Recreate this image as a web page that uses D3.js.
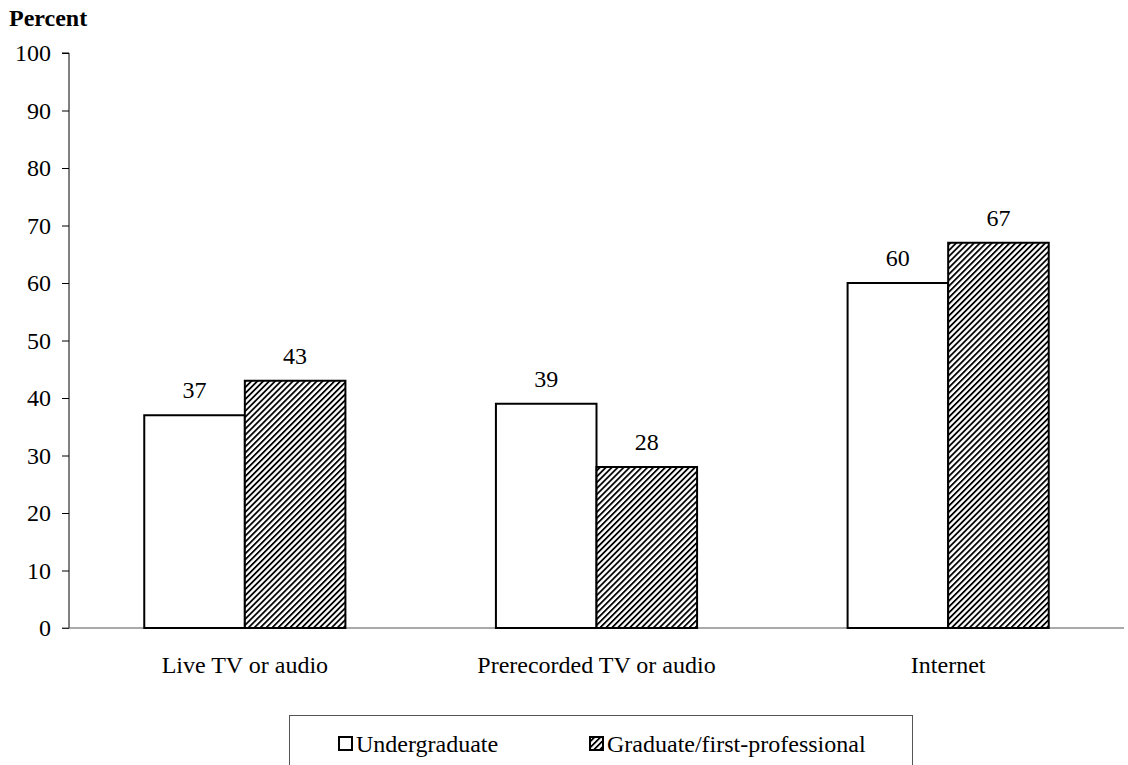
<!DOCTYPE html>
<html>
<head>
<meta charset="utf-8">
<script src="https://cdn.jsdelivr.net/npm/d3@7"></script>
<style>
  html, body { margin: 0; padding: 0; background: #fff; }
  svg { display: block; font-family: "Liberation Serif", "Times New Roman", serif; }
</style>
</head>
<body>
<svg id="chart" width="1128" height="765"></svg>
<script>
// Distance education delivery methods, by level of study
const categories = ["Live TV or audio", "Prerecorded TV or audio", "Internet"];
const seriesNames = ["Undergraduate", "Graduate/first-professional"];
const undergraduate = [37, 39, 60];
const graduate = [43, 28, 67];
const yTicks = [0, 10, 20, 30, 40, 50, 60, 70, 80, 90, 100];

const FONT = "Liberation Serif, Times New Roman, serif";
const FS = 24;

const svg = d3.select("#chart");

// hatch pattern for the graduate series
const defs = svg.append("defs");
const pat = defs.append("pattern")
  .attr("id", "hatch")
  .attr("patternUnits", "userSpaceOnUse")
  .attr("width", 4.2).attr("height", 4.2)
  .attr("patternTransform", "rotate(45)");
pat.append("rect").attr("width", 4.2).attr("height", 4.2).attr("fill", "#fff");
pat.append("rect").attr("x", 0).attr("y", 0).attr("width", 1.8).attr("height", 4.2).attr("fill", "#000");

const margin = { left: 69, right: 4, top: 53, bottom: 137 };
const width = 1128, height = 765;

const x0 = d3.scaleBand()
  .domain(categories)
  .range([margin.left, width - margin.right])
  .paddingInner(0.428)
  .paddingOuter(0.214);

const x1 = d3.scaleBand()
  .domain(seriesNames)
  .range([0, x0.bandwidth()]);

const y = d3.scaleLinear()
  .domain([0, 100])
  .range([height - margin.bottom, margin.top]);

// y axis
const yAxis = d3.axisLeft(y).tickValues(yTicks).tickSize(7).tickPadding(11);
const yg = svg.append("g")
  .attr("transform", `translate(${margin.left},0)`)
  .call(yAxis);
yg.select(".domain").attr("stroke", "#000").attr("stroke-width", 1)
  .attr("d", `M-7,${y(100)}H0V${y(0)}`);
yg.selectAll(".tick line").attr("stroke", "#000");
yg.selectAll(".tick text")
  .attr("font-family", FONT)
  .attr("font-size", FS).attr("fill", "#000");

// x axis baseline and category labels
const xAxis = d3.axisBottom(x0).tickSize(0).tickPadding(0);
const xg = svg.append("g")
  .attr("transform", `translate(0,${y(0)})`)
  .call(xAxis);
xg.select(".domain").attr("stroke", "#555").attr("stroke-width", 1.2)
  .attr("d", `M${margin.left - 7},0H${width - margin.right}`);
xg.selectAll(".tick text")
  .attr("font-family", FONT)
  .attr("font-size", FS).attr("fill", "#000")
  .attr("y", 45).attr("dy", null);

// axis title
svg.append("text")
  .attr("x", 9).attr("y", 26)
  .attr("font-family", FONT)
  .attr("font-size", FS).attr("font-weight", "bold")
  .text("Percent");

// bars
const rows = categories.map((c, i) => ({
  category: c,
  values: [
    { series: seriesNames[0], value: undergraduate[i] },
    { series: seriesNames[1], value: graduate[i] }
  ]
}));

const groups = svg.append("g").selectAll("g")
  .data(rows).join("g")
  .attr("transform", d => `translate(${x0(d.category)},0)`);

groups.selectAll("rect")
  .data(d => d.values).join("rect")
  .attr("x", d => x1(d.series))
  .attr("y", d => y(d.value))
  .attr("width", x1.bandwidth())
  .attr("height", d => y(0) - y(d.value))
  .attr("fill", d => d.series === seriesNames[0] ? "#fff" : "url(#hatch)")
  .attr("stroke", "#000")
  .attr("stroke-width", 2);

groups.selectAll("text")
  .data(d => d.values).join("text")
  .attr("x", d => x1(d.series) + x1.bandwidth() / 2)
  .attr("y", d => y(d.value) - 17)
  .attr("text-anchor", "middle")
  .attr("font-family", FONT)
  .attr("font-size", FS)
  .text(d => d.value);

// legend
const legend = svg.append("g");
legend.append("rect")
  .attr("x", 289.5).attr("y", 715.5)
  .attr("width", 623).attr("height", 70)
  .attr("fill", "none").attr("stroke", "#555").attr("stroke-width", 1);

const legendItems = [
  { name: seriesNames[0], x: 339, fill: "#fff" },
  { name: seriesNames[1], x: 590, fill: "url(#hatch)" }
];
const li = legend.selectAll("g.item").data(legendItems).join("g").attr("class", "item");
li.append("rect")
  .attr("x", d => d.x).attr("y", 737)
  .attr("width", 13).attr("height", 13)
  .attr("fill", d => d.fill)
  .attr("stroke", "#000").attr("stroke-width", 2);
li.append("text")
  .attr("x", d => d.x + 17).attr("y", 752)
  .attr("font-family", FONT)
  .attr("font-size", FS)
  .text(d => d.name);
</script>
</body>
</html>
